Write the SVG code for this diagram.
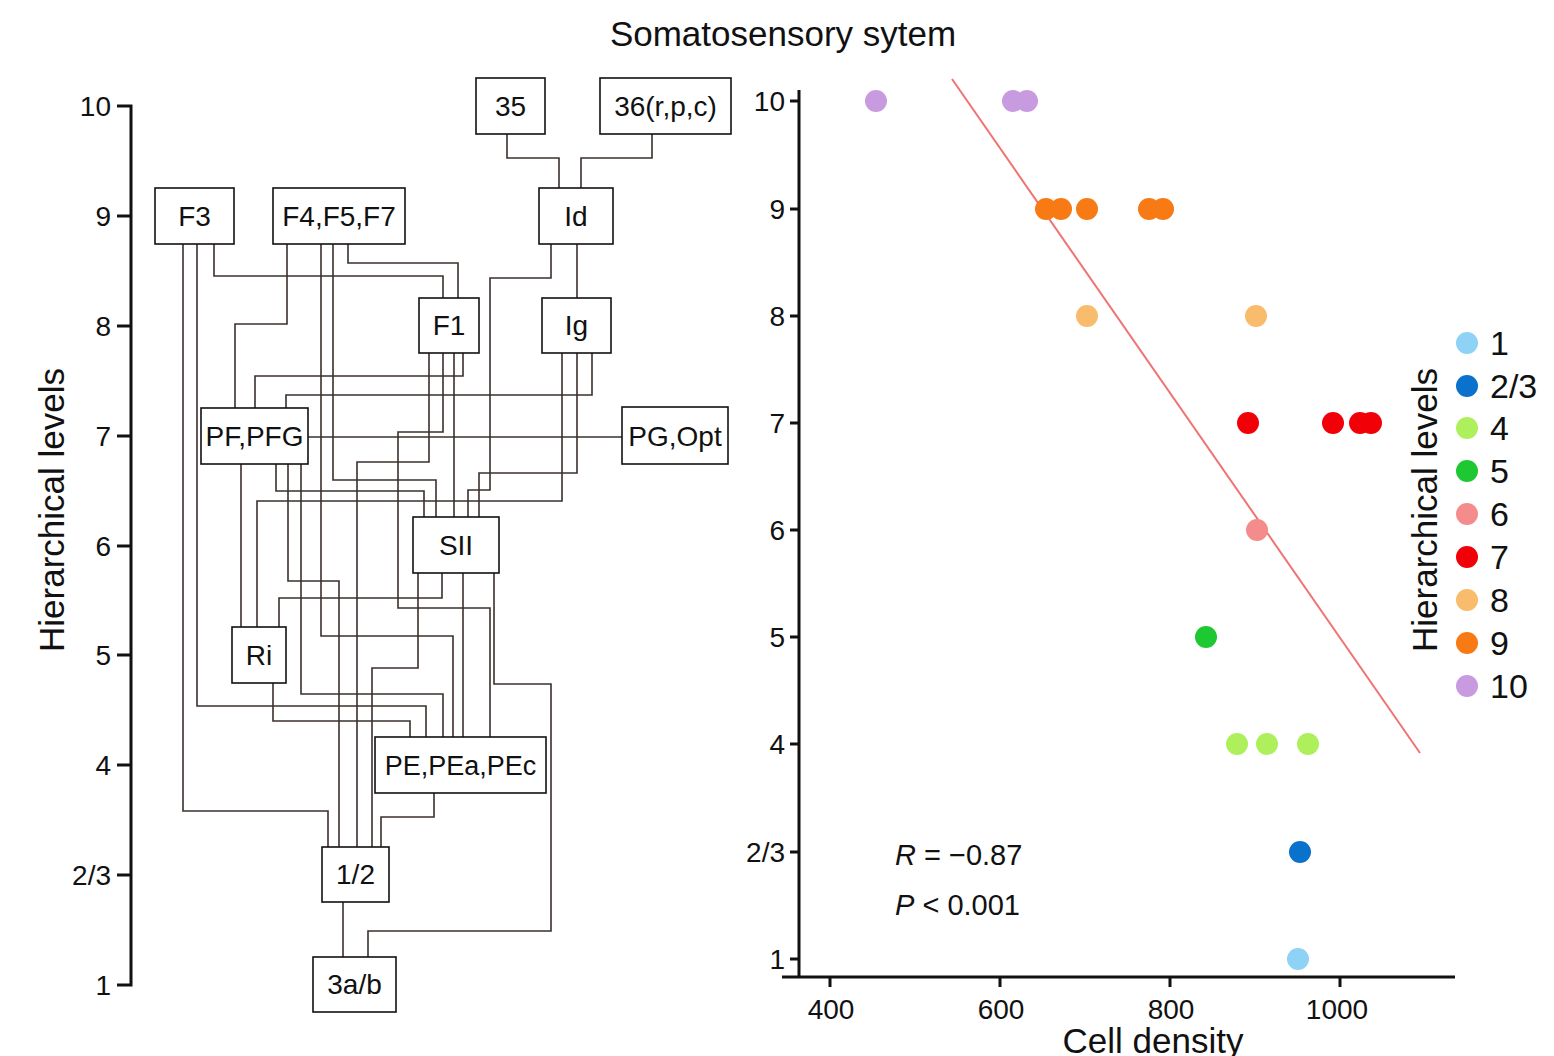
<svg xmlns="http://www.w3.org/2000/svg" width="1554" height="1056" viewBox="0 0 1554 1056">
<style>
text{font-family:"Liberation Sans",Arial,sans-serif;fill:#111}
.box rect{fill:#fff;stroke:#111;stroke-width:1.6}
.box text{font-size:28px;text-anchor:middle}
.conn path{fill:none;stroke:#3b302c;stroke-width:1.6}
.axis{fill:none;stroke:#111;stroke-width:3}
.tick{font-size:28px;text-anchor:end}
.xt{font-size:28px;text-anchor:middle}
.big{font-size:35px}
.leg{font-size:34px}
</style>
<rect width="1554" height="1056" fill="#fff"/>
<text class="big" x="783" y="46" text-anchor="middle">Somatosensory sytem</text>

<!-- left axis -->
<g id="left-axis">
<path class="axis" d="M117,106 H131 V985 H117 M117,216 H131 M117,326 H131 M117,436 H131 M117,546 H131 M117,655 H131 M117,765 H131 M117,875 H131"/>
<text class="tick" x="111" y="116">10</text>
<text class="tick" x="111" y="226">9</text>
<text class="tick" x="111" y="336">8</text>
<text class="tick" x="111" y="446">7</text>
<text class="tick" x="111" y="556">6</text>
<text class="tick" x="111" y="665">5</text>
<text class="tick" x="111" y="775">4</text>
<text class="tick" x="111" y="885">2/3</text>
<text class="tick" x="111" y="995">1</text>
<text class="big" transform="translate(64,510) rotate(-90)" text-anchor="middle">Hierarchical levels</text>
</g>

<!-- connectors -->
<g id="connectors" class="conn">
<path d="M507,134 V158 H559 V188"/>
<path d="M652,134 V158 H581 V188"/>
<path d="M577,244 V298"/>
<path d="M551,244 V278 H490 V490 H468 V517"/>
<path d="M214,244 V276 H443 V298"/>
<path d="M348,244 V263 H458 V298"/>
<path d="M183,244 V811 H328 V847"/>
<path d="M197,244 V706 H426 V737"/>
<path d="M287,244 V324 H235 V408"/>
<path d="M321,244 V636 H453 V737"/>
<path d="M333,244 V480 H436 V517"/>
<path d="M463,353 V376 H255 V408"/>
<path d="M443,353 V432 H398 V608 H490 V737"/>
<path d="M429,353 V462 H357 V847"/>
<path d="M454,353 V517"/>
<path d="M592,353 V395 H286 V408"/>
<path d="M577,353 V473 H479 V517"/>
<path d="M562,353 V501 H257 V627"/>
<path d="M308,437 H622"/>
<path d="M241,464 V627"/>
<path d="M276,464 V491 H424 V517"/>
<path d="M288,464 V581 H339 V847"/>
<path d="M301,464 V694 H443 V737"/>
<path d="M442,573 V598 H279 V627"/>
<path d="M418,573 V668 H372 V847"/>
<path d="M463,573 V737"/>
<path d="M494,573 V684 H551 V931 H368 V957"/>
<path d="M273,683 V721 H410 V737"/>
<path d="M434,793 V817 H381 V847"/>
<path d="M343,902 V957"/>
</g>

<!-- nodes -->
<g id="n35" class="box"><rect x="476" y="78" width="69" height="56"/><text x="510.5" y="116">35</text></g>
<g id="n36" class="box"><rect x="600" y="78" width="131" height="56"/><text x="665.5" y="116">36(r,p,c)</text></g>
<g id="nF3" class="box"><rect x="155" y="188" width="79" height="56"/><text x="194.5" y="226">F3</text></g>
<g id="nF4F5F7" class="box"><rect x="273" y="188" width="132" height="56"/><text x="339" y="226">F4,F5,F7</text></g>
<g id="nId" class="box"><rect x="539" y="188" width="74" height="56"/><text x="576" y="226">Id</text></g>
<g id="nF1" class="box"><rect x="419" y="298" width="60" height="55"/><text x="449" y="335">F1</text></g>
<g id="nIg" class="box"><rect x="542" y="298" width="69" height="55"/><text x="576.5" y="335">Ig</text></g>
<g id="nPF" class="box"><rect x="201" y="408" width="107" height="56"/><text x="254.5" y="446">PF,PFG</text></g>
<g id="nPG" class="box"><rect x="622" y="407" width="106" height="57"/><text x="675" y="446">PG,Opt</text></g>
<g id="nSII" class="box"><rect x="413" y="517" width="86" height="56"/><text x="456" y="555">SII</text></g>
<g id="nRi" class="box"><rect x="232" y="627" width="54" height="56"/><text x="259" y="665">Ri</text></g>
<g id="nPE" class="box"><rect x="375" y="737" width="171" height="56"/><text x="460.5" y="775" style="font-size:27px">PE,PEa,PEc</text></g>
<g id="n12" class="box"><rect x="322" y="847" width="67" height="55"/><text x="355.5" y="884">1/2</text></g>
<g id="n3ab" class="box"><rect x="313" y="957" width="83" height="55"/><text x="354.5" y="994">3a/b</text></g>

<!-- right chart -->
<g id="scatter">
<path class="axis" d="M790,101 H799 M790,209 H799 M790,316 H799 M790,423 H799 M790,530 H799 M790,637 H799 M790,744 H799 M790,852 H799 M790,959 H799 M799,90 V977 M782,977 H1455 M830,977 V987 M1000,977 V987 M1170,977 V987 M1340,977 V987"/>
<text class="tick" x="785" y="111">10</text>
<text class="tick" x="785" y="219">9</text>
<text class="tick" x="785" y="326">8</text>
<text class="tick" x="785" y="433">7</text>
<text class="tick" x="785" y="540">6</text>
<text class="tick" x="785" y="647">5</text>
<text class="tick" x="785" y="754">4</text>
<text class="tick" x="785" y="862">2/3</text>
<text class="tick" x="785" y="969">1</text>
<text class="xt" x="831" y="1019">400</text>
<text class="xt" x="1001" y="1019">600</text>
<text class="xt" x="1171" y="1019">800</text>
<text class="xt" x="1337" y="1019">1000</text>
<text class="big" x="1153" y="1053" text-anchor="middle">Cell density</text>
<line x1="952" y1="79" x2="1420" y2="753" stroke="#f07373" stroke-width="2"/>
<g fill="#c89be0"><circle cx="876" cy="101" r="11"/><circle cx="1013" cy="101" r="11"/><circle cx="1027" cy="101" r="11"/></g>
<g fill="#f77a14"><circle cx="1046" cy="209" r="11"/><circle cx="1061" cy="209" r="11"/><circle cx="1087" cy="209" r="11"/><circle cx="1149" cy="209" r="11"/><circle cx="1163" cy="209" r="11"/></g>
<g fill="#f9bb6c"><circle cx="1087" cy="316" r="11"/><circle cx="1256" cy="316" r="11"/></g>
<g fill="#f20008"><circle cx="1248" cy="423" r="11"/><circle cx="1333" cy="423" r="11"/><circle cx="1360" cy="423" r="11"/><circle cx="1371" cy="423" r="11"/></g>
<circle fill="#f58c8c" cx="1257" cy="530" r="11"/>
<circle fill="#1ec832" cx="1206" cy="637" r="11"/>
<g fill="#aef05c"><circle cx="1237" cy="744" r="11"/><circle cx="1267" cy="744" r="11"/><circle cx="1308" cy="744" r="11"/></g>
<circle fill="#0a72cc" cx="1300" cy="852" r="11"/>
<circle fill="#8ed2f6" cx="1298" cy="959" r="11"/>
<text x="895" y="865" font-size="29"><tspan font-style="italic">R</tspan> = −0.87</text>
<text x="895" y="915" font-size="29"><tspan font-style="italic">P</tspan> &lt; 0.001</text>
</g>

<g id="legend">
<text class="big" transform="translate(1437,510) rotate(-90)" text-anchor="middle">Hierarchical levels</text>
<circle fill="#8ed2f6" cx="1467" cy="343" r="11"/><text class="leg" x="1490" y="355">1</text>
<circle fill="#0a72cc" cx="1467" cy="386" r="11"/><text class="leg" x="1490" y="398">2/3</text>
<circle fill="#aef05c" cx="1467" cy="428" r="11"/><text class="leg" x="1490" y="440">4</text>
<circle fill="#1ec832" cx="1467" cy="471" r="11"/><text class="leg" x="1490" y="483">5</text>
<circle fill="#f58c8c" cx="1467" cy="514" r="11"/><text class="leg" x="1490" y="526">6</text>
<circle fill="#f20008" cx="1467" cy="557" r="11"/><text class="leg" x="1490" y="569">7</text>
<circle fill="#f9bb6c" cx="1467" cy="600" r="11"/><text class="leg" x="1490" y="612">8</text>
<circle fill="#f77a14" cx="1467" cy="643" r="11"/><text class="leg" x="1490" y="655">9</text>
<circle fill="#c89be0" cx="1467" cy="686" r="11"/><text class="leg" x="1490" y="698">10</text>
</g>
</svg>
